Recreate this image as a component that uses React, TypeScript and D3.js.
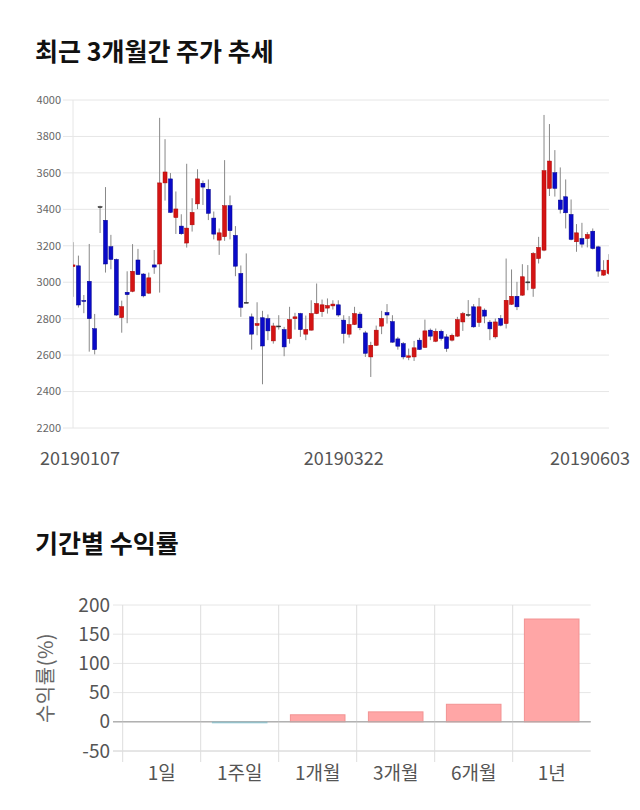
import React from 'react';
import * as d3 from 'd3';

// 일봉 데이터 (2019-01-07 ~ 2019-06-03)
const opens = [3086, 3090, 2900, 3005, 2745, 3415, 3340, 3195, 3125, 2806, 2945, 2950, 3122, 3045, 2940, 3095, 3100, 3545, 3567, 3355, 3308, 3215, 3315, 3430, 3543, 3510, 3352, 3231, 3250, 3420, 3257, 3048, 2890, 2810, 2763, 2805, 2800, 2678, 2760, 2740, 2690, 2800, 2828, 2715, 2737, 2828, 2838, 2858, 2870, 2876, 2792, 2715, 2768, 2825, 2722, 2590, 2654, 2759, 2834, 2784, 2689, 2663, 2588, 2590, 2682, 2642, 2737, 2676, 2731, 2700, 2682, 2704, 2782, 2823, 2865, 2779, 2847, 2781, 2700, 2801, 2773, 2879, 2923, 2929, 3002, 2966, 3130, 3176, 3515, 3601, 3451, 3469, 3372, 3222, 3240, 3240, 3280, 3194, 3039, 3048];
const highs = [3220, 3146, 2930, 3210, 2826, 3420, 3522, 3260, 3130, 2899, 3060, 3209, 3183, 3050, 3053, 3177, 3902, 3785, 3599, 3498, 3373, 3650, 3461, 3620, 3558, 3564, 3388, 3295, 3670, 3476, 3308, 3092, 3158, 2828, 2890, 2843, 2823, 2777, 2819, 2755, 2865, 2832, 2832, 2817, 2901, 2993, 2905, 2911, 2901, 2901, 2819, 2814, 2865, 2837, 2733, 2673, 2762, 2843, 2880, 2819, 2700, 2672, 2636, 2678, 2695, 2795, 2746, 2746, 2740, 2715, 2718, 2810, 2837, 2902, 2880, 2914, 2856, 2792, 2801, 2820, 3130, 3070, 3002, 3099, 3094, 3165, 3249, 3918, 3868, 3725, 3630, 3564, 3454, 3319, 3326, 3275, 3295, 3200, 3121, 3154];
const lows = [2920, 2861, 2830, 2619, 2604, 3270, 3053, 3071, 2815, 2723, 2775, 2945, 3040, 2917, 2935, 3046, 2943, 3448, 3380, 3265, 3260, 3190, 3278, 3401, 3424, 3341, 3235, 3150, 3227, 3235, 3033, 2810, 2885, 2630, 2709, 2440, 2682, 2663, 2740, 2594, 2663, 2740, 2700, 2682, 2735, 2825, 2810, 2828, 2850, 2810, 2664, 2696, 2765, 2737, 2590, 2480, 2650, 2715, 2773, 2668, 2630, 2577, 2572, 2568, 2628, 2640, 2682, 2671, 2680, 2618, 2675, 2700, 2733, 2810, 2750, 2755, 2775, 2682, 2690, 2758, 2746, 2875, 2847, 2925, 2956, 2920, 3103, 3170, 3473, 3470, 3377, 3295, 3230, 3167, 3190, 3191, 3180, 3030, 3035, 3040];
const closes = [3095, 2875, 2895, 2800, 2630, 3415, 3100, 3125, 2820, 2866, 2932, 3060, 3042, 2925, 3024, 3083, 3545, 3605, 3383, 3402, 3266, 3297, 3383, 3567, 3522, 3378, 3264, 3271, 3420, 3283, 3088, 2862, 2890, 2715, 2773, 2650, 2733, 2760, 2760, 2645, 2795, 2810, 2740, 2740, 2828, 2883, 2876, 2872, 2880, 2820, 2718, 2768, 2828, 2750, 2610, 2654, 2737, 2801, 2820, 2671, 2649, 2590, 2596, 2640, 2631, 2733, 2704, 2731, 2691, 2636, 2709, 2795, 2828, 2823, 2755, 2865, 2814, 2744, 2782, 2764, 2901, 2923, 2865, 3030, 3002, 3158, 3191, 3612, 3665, 3515, 3400, 3381, 3235, 3271, 3209, 3262, 3185, 3061, 3066, 3121];
const dateLabels = [
  { index: 0, label: '20190107' },
  { index: 50, label: '20190322' },
  { index: 99, label: '20190603' },
];
const priceTicks = [2200, 2400, 2600, 2800, 3000, 3200, 3400, 3600, 3800, 4000];

// 기간별 수익률
const periods = ['1일', '1주일', '1개월', '3개월', '6개월', '1년'];
const returns = [0, -0.5, 12, 17, 30, 176];
const returnTicks = [-50, 0, 50, 100, 150, 200];

const FONT = '"Noto Sans CJK KR", "Noto Sans", sans-serif';

const CandleChart: React.FC = () => {
  const left = 73;
  const right = 609;
  const top = 100;
  const bottom = 428;

  const x = d3.scaleLinear().domain([0, opens.length - 1]).range([left, right]);
  const y = d3.scaleLinear().domain([2200, 4000]).range([bottom, top]);
  const bw = 4;

  return (
    <g>
      <defs>
        <clipPath id="plotClip">
          <rect x={left} y={top - 10} width={right - left} height={bottom - top + 20} />
        </clipPath>
      </defs>
      {priceTicks.map(t => (
        <g key={t}>
          <line x1={63} x2={right} y1={y(t)} y2={y(t)} stroke="#e6e6e6" strokeWidth={1} />
          <text x={61} y={y(t)} dy="0.35em" textAnchor="end" fontSize={11} fill="#666" fontFamily={FONT}>{t}</text>
        </g>
      ))}
      <line x1={left} x2={left} y1={top} y2={bottom} stroke="#e6e6e6" />
      <g clipPath="url(#plotClip)">
        {opens.map((o, i) => {
          const c = closes[i];
          const up = c > o;
          const flat = c === o;
          const color = flat ? '#333' : up ? '#d41414' : '#0a0ac8';
          const stroke = flat ? '#333' : up ? '#a00' : '#00008c';
          const y0 = y(Math.max(o, c));
          const y1 = y(Math.min(o, c));
          const cx = x(i);
          return (
            <g key={i}>
              <line x1={cx} x2={cx} y1={y(highs[i])} y2={y(lows[i])} stroke="#888" strokeWidth={1} />
              <rect x={cx - bw / 2} y={y0} width={bw} height={Math.max(1, y1 - y0)} fill={color} stroke={stroke} strokeWidth={0.5} />
            </g>
          );
        })}
      </g>
      {dateLabels.map(d => {
        const half = 40;
        const cx = Math.min(630 - half, Math.max(40 + half, x(d.index)));
        return (
          <text key={d.label} x={cx} y={465} textAnchor="middle" fontSize={18} fill="#555" fontFamily={FONT}>{d.label}</text>
        );
      })}
    </g>
  );
};

const ReturnChart: React.FC = () => {
  const left = 122.7;
  const right = 590.7;
  const top = 605;
  const bottom = 751;

  const x = d3.scaleBand<string>().domain(periods).range([left, right]).paddingInner(0.3).paddingOuter(0.15);
  const y = d3.scaleLinear().domain([-50, 200]).range([bottom, top]);
  const step = x.step();

  return (
    <g>
      {returnTicks.map(t => (
        <g key={t}>
          <line x1={113} x2={right} y1={y(t)} y2={y(t)} stroke={t === 0 ? '#aaa' : t === -50 ? '#ccc' : '#e6e6e6'} strokeWidth={1} />
          <text x={110} y={y(t)} dy="0.35em" textAnchor="end" fontSize={19} fill="#555" fontFamily={FONT}>{t}</text>
        </g>
      ))}
      {periods.map(p => {
        const gx = (x(p) ?? 0) - step * 0.15;
        return <line key={p} x1={gx} x2={gx} y1={top} y2={762} stroke="#ddd" strokeWidth={1} />;
      })}
      {periods.map((p, i) => {
        const v = returns[i];
        if (v === 0) return null;
        const y0 = y(Math.max(0, v));
        const y1 = y(Math.min(0, v));
        const pos = v > 0;
        return (
          <rect key={p} x={x(p)} y={y0} width={x.bandwidth()} height={Math.max(1, y1 - y0)}
            fill={pos ? '#ffa6a6' : '#a8dbe6'} stroke={pos ? '#f29393' : '#8cc9d6'} strokeWidth={1} />
        );
      })}
      <line x1={113} x2={right} y1={y(0)} y2={y(0)} stroke="#aaa" strokeWidth={1} />
      {periods.map(p => (
        <text key={p} x={(x(p) ?? 0) + x.bandwidth() / 2} y={780} textAnchor="middle" fontSize={19} fill="#555" fontFamily={FONT}>{p}</text>
      ))}
      <text transform={`translate(53, ${y(75)}) rotate(-90)`} textAnchor="middle" fontSize={20} fill="#666" fontFamily={FONT} letterSpacing={0.5}>수익률(%)</text>
    </g>
  );
};

export default function App() {
  return (
    <svg width={640} height={810} style={{ position: 'absolute', left: 0, top: 0, background: '#fff' }}>
      <rect width={640} height={810} fill="#fff" />
      <text x={35} y={61} fontSize={25} fontWeight="bold" fill="#111" fontFamily={FONT}>최근 3개월간 주가 추세</text>
      <CandleChart />
      <text x={35} y={553} fontSize={25} fontWeight="bold" fill="#111" fontFamily={FONT}>기간별 수익률</text>
      <ReturnChart />
    </svg>
  );
}
